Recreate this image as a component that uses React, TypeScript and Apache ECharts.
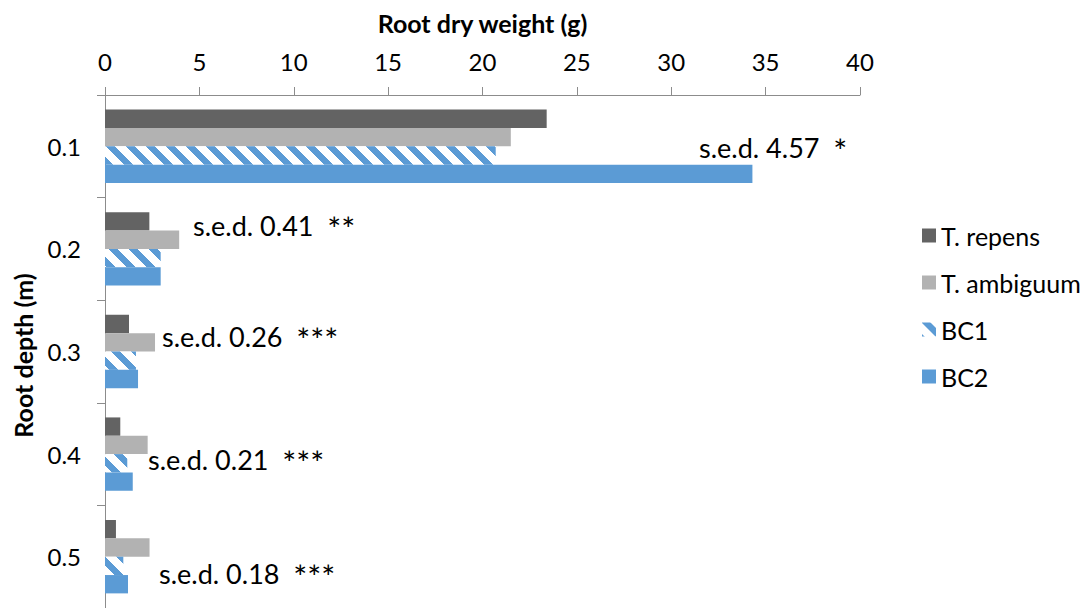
import React, { useEffect, useRef } from 'react';
import * as echarts from 'echarts';

const categories = ['0.1', '0.2', '0.3', '0.4', '0.5'];
const tRepens = [23.4, 2.35, 1.27, 0.81, 0.58];
const tAmbiguum = [21.5, 3.93, 2.65, 2.26, 2.36];
const bc1 = [20.7, 2.95, 1.64, 1.18, 0.97];
const bc2 = [34.3, 2.95, 1.75, 1.47, 1.22];
const seriesNames = ['T. repens', 'T. ambiguum', 'BC1', 'BC2'];
const sedValues = ['4.57', '0.41', '0.26', '0.21', '0.18'];
const sedStars = ['*', '**', '***', '***', '***'];
const sedPos = [
  [699, 147],
  [193, 225],
  [162, 336],
  [148, 459],
  [159, 573],
];

const FONT = 'Lato';
const BLUE = '#5b9bd5';

function makeHatch(): HTMLCanvasElement {
  const size = 20;
  const c = document.createElement('canvas');
  c.width = size;
  c.height = size;
  const ctx = c.getContext('2d')!;
  const img = ctx.createImageData(size, size);
  for (let y = 0; y < size; y++) {
    for (let x = 0; x < size; x++) {
      const d = (((x - y) % size) + size) % size;
      const i = (y * size + x) * 4;
      if (d < 9) {
        img.data[i] = 0x5b;
        img.data[i + 1] = 0x9b;
        img.data[i + 2] = 0xd5;
      } else {
        img.data[i] = 255;
        img.data[i + 1] = 255;
        img.data[i + 2] = 255;
      }
      img.data[i + 3] = 255;
    }
  }
  ctx.putImageData(img, 0, 0);
  return c;
}

export default function App() {
  const ref = useRef<HTMLDivElement>(null);
  useEffect(() => {
    if (!ref.current) return;
    const chart = echarts.init(ref.current, undefined, { renderer: 'svg' });
    const hatch = makeHatch();
    const hatchColor: any = {
      image: hatch,
      repeat: 'repeat',
      imageWidth: 20,
      imageHeight: 20,
    };
    const colors = ['#636363', '#b2b2b2', hatchColor, BLUE];
    const dataSets = [tRepens, tAmbiguum, bc1, bc2];
    chart.setOption({
      animation: false,
      textStyle: { fontFamily: FONT, color: '#000' },
      grid: { left: 105, top: 95, width: 755, height: 517 },
      legend: {
        orient: 'vertical',
        left: 917,
        top: 218,
        itemWidth: 14,
        itemHeight: 14,
        itemGap: 22,
        icon: 'rect',
        data: seriesNames,
        textStyle: { fontFamily: FONT, fontSize: 25, color: '#000', lineHeight: 25 },
      },
      xAxis: {
        type: 'value',
        position: 'top',
        min: 0,
        max: 40,
        interval: 5,
        name: 'Root dry weight (g)',
        nameLocation: 'middle',
        nameGap: 60,
        nameTextStyle: { fontFamily: FONT, fontWeight: 'bold', fontSize: 25, color: '#000' },
        axisLine: { show: true, lineStyle: { color: '#8c8c8c', width: 1 } },
        axisTick: { show: true, length: 8, lineStyle: { color: '#8c8c8c' } },
        axisLabel: { fontFamily: FONT, fontSize: 24, color: '#000', margin: 22 },
        splitLine: { show: false },
      },
      yAxis: {
        type: 'category',
        data: categories,
        inverse: true,
        name: 'Root depth (m)',
        nameLocation: 'middle',
        nameRotate: 90,
        nameGap: 70,
        nameTextStyle: {
          fontFamily: FONT,
          fontWeight: 'bold',
          fontSize: 25,
          color: '#000',
          padding: [0, 8, 0, 0],
        },
        axisLine: { show: true, lineStyle: { color: '#8c8c8c', width: 1 } },
        axisTick: { show: true, length: 8, lineStyle: { color: '#8c8c8c' } },
        axisLabel: { fontFamily: FONT, fontSize: 24, color: '#000', margin: 24 },
      },
      series: seriesNames.map((name, i) => ({
        name,
        type: 'bar',
        data: dataSets[i],
        barCategoryGap: '28.5%',
        barGap: '0%',
        itemStyle: { color: colors[i] },
      })),
      graphic: sedValues.map((v, i) => ({
        type: 'text',
        x: sedPos[i][0],
        y: sedPos[i][1],
        style: {
          text: `{a|s.e.d. ${v}}{s|  }{b|${sedStars[i]}}`,
          fontFamily: FONT,
          fill: '#000',
          verticalAlign: 'middle',
          align: 'left',
          rich: {
            a: { fontFamily: FONT, fontSize: 27, fill: '#000', color: '#000' },
            s: { fontFamily: FONT, fontSize: 27 },
            b: { fontFamily: FONT, fontSize: 33, fill: '#000', color: '#000', padding: [6, 0, 0, 0] },
          },
        },
      })),
    });
    return () => chart.dispose();
  }, []);
  return (
    <div
      ref={ref}
      style={{ position: 'fixed', left: 0, top: 0, width: 1082, height: 608, background: '#fff' }}
    />
  );
}
